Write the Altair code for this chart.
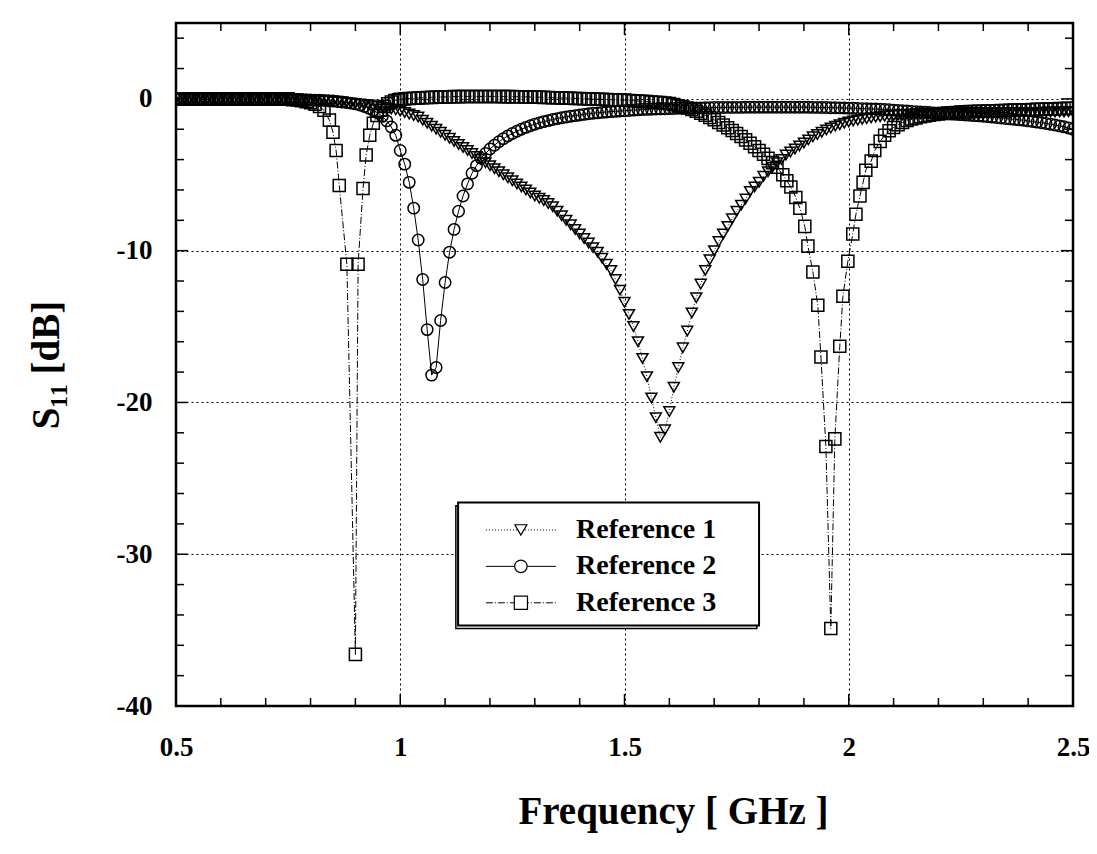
import altair as alt
import pandas as pd


def grid(start, n):
    return [round(start + 0.01 * i, 2) for i in range(n)]


# ---------------- data ----------------
FREQ_GRID = grid(0.50, 201)

REF1_DB = [
    0, 0, 0, 0, 0, 0, 0, 0, 0, 0,
    0, 0, 0, 0, 0, 0, 0, 0, 0, 0,
    0, 0, 0, -0.02, -0.03, -0.04, -0.05, -0.06, -0.07, -0.08,
    -0.09, -0.10, -0.12, -0.14, -0.16, -0.18, -0.20, -0.22, -0.25, -0.28,
    -0.31, -0.34, -0.37, -0.41, -0.45, -0.50, -0.55, -0.60, -0.66, -0.72,
    -0.80, -0.90, -1.00, -1.10, -1.20, -1.40, -1.60, -1.80, -2.00, -2.20,
    -2.40, -2.60, -2.80, -3.00, -3.20, -3.40, -3.60, -3.80, -4.00, -4.20,
    -4.40, -4.60, -4.80, -5.00, -5.20, -5.40, -5.60, -5.80, -6.00, -6.20,
    -6.40, -6.55, -6.70, -6.90, -7.10, -7.40, -7.70, -8.00, -8.30, -8.60,
    -8.90, -9.20, -9.50, -9.80, -10.10, -10.50, -10.90, -11.30, -11.90, -12.60,
    -13.40, -14.20, -15.00, -16.00, -17.10, -18.30, -19.70, -21.00, -22.30, -21.80,
    -20.60, -19.00, -17.70, -16.40, -15.30, -14.10, -13.10, -12.20, -11.30, -10.60,
    -10.00, -9.40, -8.90, -8.40, -7.90, -7.40, -7.00, -6.60, -6.10, -5.80,
    -5.50, -5.10, -4.80, -4.50, -4.20, -4.00, -3.70, -3.50, -3.30, -3.10,
    -2.90, -2.70, -2.50, -2.35, -2.20, -2.05, -1.92, -1.80, -1.70, -1.60,
    -1.52, -1.45, -1.40, -1.35, -1.30, -1.25, -1.21, -1.17, -1.14, -1.11,
    -1.08, -1.06, -1.04, -1.02, -1.00, -0.99, -0.98, -0.97, -0.96, -0.95,
    -0.94, -0.94, -0.93, -0.93, -0.92, -0.92, -0.92, -0.91, -0.91, -0.91,
    -0.90, -0.90, -0.90, -0.90, -0.90, -0.90, -0.90, -0.90, -0.90, -0.90,
    -0.90, -0.89, -0.89, -0.88, -0.88, -0.87, -0.87, -0.86, -0.86, -0.85,
    -0.85,
]

REF2_DB = [
    0, 0, 0, 0, 0, 0, 0, 0, 0, 0,
    0, 0, 0, 0, 0, 0, 0, 0, 0, 0,
    0, 0, 0, 0, -0.01, -0.02, -0.03, -0.04, -0.05, -0.06,
    -0.07, -0.08, -0.09, -0.10, -0.12, -0.14, -0.17, -0.20, -0.24, -0.28,
    -0.33, -0.40, -0.50, -0.62, -0.76, -0.93, -1.15, -1.45, -1.85, -2.40,
    -3.40, -4.30, -5.50, -7.20, -9.30, -11.90, -15.20, -18.20, -17.70, -14.60,
    -12.10, -10.10, -8.60, -7.40, -6.40, -5.60, -4.90, -4.40, -3.90, -3.60,
    -3.30, -3.05, -2.82, -2.62, -2.44, -2.28, -2.13, -2.00, -1.88, -1.77,
    -1.67, -1.58, -1.50, -1.43, -1.36, -1.30, -1.24, -1.19, -1.14, -1.10,
    -1.06, -1.02, -0.98, -0.95, -0.92, -0.89, -0.86, -0.84, -0.82, -0.80,
    -0.78, -0.76, -0.74, -0.72, -0.70, -0.69, -0.68, -0.67, -0.66, -0.65,
    -0.64, -0.63, -0.62, -0.61, -0.60, -0.60, -0.59, -0.59, -0.58, -0.58,
    -0.57, -0.57, -0.57, -0.56, -0.56, -0.56, -0.56, -0.55, -0.55, -0.55,
    -0.55, -0.55, -0.55, -0.55, -0.55, -0.55, -0.55, -0.55, -0.55, -0.55,
    -0.55, -0.55, -0.56, -0.56, -0.57, -0.57, -0.58, -0.58, -0.59, -0.60,
    -0.61, -0.62, -0.63, -0.64, -0.65, -0.66, -0.67, -0.68, -0.70, -0.72,
    -0.74, -0.76, -0.78, -0.80, -0.82, -0.84, -0.86, -0.88, -0.90, -0.92,
    -0.94, -0.96, -0.98, -1.00, -1.02, -1.04, -1.06, -1.08, -1.10, -1.12,
    -1.14, -1.17, -1.20, -1.23, -1.26, -1.29, -1.32, -1.35, -1.38, -1.41,
    -1.45, -1.49, -1.53, -1.57, -1.62, -1.67, -1.72, -1.78, -1.84, -1.92,
    -2.00,
]

REF3_DIP1_FREQ = [0.842, 0.850, 0.857, 0.864, 0.881, 0.900, 0.906, 0.917, 0.924,
                  0.932, 0.940, 0.948, 0.956, 0.964, 0.972, 0.980, 0.988, 0.996]
REF3_DIP2_FREQ = [1.853, 1.862, 1.871, 1.882, 1.891, 1.902, 1.909, 1.920, 1.931,
                  1.938, 1.949, 1.960, 1.969, 1.980, 1.987, 1.998, 2.009, 2.016,
                  2.025, 2.032, 2.038, 2.050, 2.058, 2.070]
REF3_FREQ = (grid(0.50, 34) + REF3_DIP1_FREQ + grid(1.00, 60) + grid(1.60, 25)
             + REF3_DIP2_FREQ + grid(2.08, 43))
REF3_DB = [
    # 0.50 - 0.83
    0, 0, 0, 0, 0, 0, 0, 0, 0, 0,
    0, 0, 0, 0, 0, 0, 0, 0, 0, 0,
    0, 0, 0, 0, 0, 0, -0.05, -0.08, -0.12, -0.18,
    -0.26, -0.36, -0.50, -0.75,
    # first resonance
    -1.4, -2.2, -3.4, -5.7, -10.9, -36.6, -10.9, -5.9, -3.7,
    -2.4, -1.6, -1.1, -0.75, -0.5, -0.32, -0.2, -0.1, -0.05,
    # 1.00 - 1.59
    -0.02, 0.00, 0.02, 0.04, 0.06, 0.08, 0.09, 0.10, 0.11, 0.12,
    0.13, 0.14, 0.15, 0.15, 0.16, 0.16, 0.16, 0.16, 0.16, 0.16,
    0.16, 0.16, 0.16, 0.15, 0.15, 0.15, 0.14, 0.14, 0.13, 0.13,
    0.12, 0.11, 0.10, 0.09, 0.08, 0.07, 0.06, 0.05, 0.04, 0.03,
    0.02, 0.01, 0.00, -0.01, -0.02, -0.03, -0.04, -0.05, -0.06, -0.07,
    -0.08, -0.10, -0.12, -0.14, -0.16, -0.18, -0.20, -0.22, -0.24, -0.27,
    # 1.60 - 1.84
    -0.30, -0.37, -0.45, -0.52, -0.60, -0.70, -0.82, -0.95, -1.08, -1.22,
    -1.38, -1.55, -1.72, -1.90, -2.08, -2.28, -2.48, -2.70, -2.92, -3.15,
    -3.40, -3.65, -3.92, -4.20, -4.50,
    # second resonance
    -5.0, -5.4, -5.8, -6.5, -7.2, -8.4, -9.7, -11.4, -13.6,
    -17.0, -22.9, -34.9, -22.4, -16.3, -13.0, -10.7, -8.9, -7.6,
    -6.4, -5.5, -4.7, -4.1, -3.4, -2.8,
    # 2.08 - 2.50
    -2.40, -2.10, -1.88, -1.70, -1.55, -1.43, -1.33, -1.25, -1.18, -1.12,
    -1.07, -1.03, -0.99, -0.96, -0.93, -0.91, -0.89, -0.87, -0.85, -0.84,
    -0.83, -0.82, -0.81, -0.80, -0.79, -0.78, -0.77, -0.76, -0.75, -0.74,
    -0.73, -0.72, -0.71, -0.70, -0.69, -0.68, -0.67, -0.66, -0.65, -0.64,
    -0.63, -0.62, -0.61,
]

SERIES = ["Reference 1", "Reference 2", "Reference 3"]

X_TICKS = [0.5, 1.0, 1.5, 2.0, 2.5]
Y_TICKS = [0, -10, -20, -30, -40]
X_MINOR = [0.6, 0.7, 0.8, 0.9, 1.1, 1.2, 1.3, 1.4, 1.6, 1.7, 1.8, 1.9,
           2.1, 2.2, 2.3, 2.4]
X_MAJOR = [1.0, 1.5, 2.0]
Y_MINOR = [4, 2, -2, -4, -6, -8, -12, -14, -16, -18, -22, -24, -26, -28,
           -32, -34, -36, -38]
Y_MAJOR = [0, -10, -20, -30]

# legend rows (placed in data space inside the plot)
LEGEND_Y = [-28.4, -30.8, -33.2]

# ---------------- build tables ----------------
rows = []
for name, fs, vs in [(SERIES[0], FREQ_GRID, REF1_DB),
                     (SERIES[1], FREQ_GRID, REF2_DB),
                     (SERIES[2], REF3_FREQ, REF3_DB)]:
    rows += [{"f": f, "s": v, "series": name} for f, v in zip(fs, vs)]
df = pd.DataFrame(rows)

XMIN, XMAX, YMIN, YMAX = 0.5, 2.5, -40, 5
W, H = 897, 683
px_x = (XMAX - XMIN) / W
px_y = (YMAX - YMIN) / H

FONT = "Liberation Serif"

xscale = alt.Scale(domain=[XMIN, XMAX], nice=False, zero=False)
yscale = alt.Scale(domain=[YMIN, YMAX], nice=False, zero=False)
xaxis = alt.Axis(values=X_TICKS, labelExpr="'' + datum.value", labelFlush=False,
                 labelPadding=28, titlePadding=32, titleX=497, titleAlign="center",
                 grid=True, ticks=False, domain=False, labelOverlap=False)
yaxis = alt.Axis(values=Y_TICKS,
                 labelExpr="datum.value < 0 ? '-' + abs(datum.value) : '' + datum.value",
                 labelFlush=False, labelPadding=24, titlePadding=50, grid=True,
                 ticks=False, domain=False, labelOverlap=False)
XT = "Frequency [ GHz ]"
YT = "S\u2081\u2081 [dB]"


def X(field):
    return alt.X(field, type="quantitative", scale=xscale, axis=xaxis, title=XT)


def Y(field):
    return alt.Y(field, type="quantitative", scale=yscale, axis=yaxis, title=YT)


STYLE = {
    SERIES[0]: dict(shape="triangle-down", dash=[1, 2], size=120),
    SERIES[1]: dict(shape="circle", dash=None, size=130),
    SERIES[2]: dict(shape="square", dash=[7, 2, 1, 2], size=145),
}

layers = []
for name in SERIES:
    st = STYLE[name]
    d = df[df.series == name]
    lk = dict(color="black", strokeWidth=1, clip=True)
    if st["dash"]:
        lk["strokeDash"] = st["dash"]
    layers.append(alt.Chart(d).mark_line(**lk).encode(x=X("f"), y=Y("s"), order="f:Q"))
    layers.append(alt.Chart(d).mark_point(shape=st["shape"], filled=False, size=st["size"],
                                          color="black", strokeWidth=1.5, opacity=1,
                                          clip=True).encode(x=X("f"), y=Y("s")))

# inward ticks on all four sides
vt = []
for v in X_MINOR + X_MAJOR:
    L = (12 if v in X_MAJOR else 8) * px_y
    vt.append({"f": v, "s": YMIN, "s2": YMIN + L})
    vt.append({"f": v, "s": YMAX, "s2": YMAX - L})
ht = []
for v in Y_MINOR + Y_MAJOR:
    L = (12 if v in Y_MAJOR else 8) * px_x
    ht.append({"s": v, "f": XMIN, "f2": XMIN + L})
    ht.append({"s": v, "f": XMAX, "f2": XMAX - L})
layers.append(alt.Chart(pd.DataFrame(vt)).mark_rule(color="black", strokeWidth=1.5).encode(
    x=X("f"), y=Y("s"), y2="s2:Q"))
layers.append(alt.Chart(pd.DataFrame(ht)).mark_rule(color="black", strokeWidth=1.5).encode(
    y=Y("s"), x=X("f"), x2="f2:Q"))

# legend box
box = pd.DataFrame([{"f": 1.129, "f2": 1.800, "s": -26.6, "s2": -34.7}])
shadow = pd.DataFrame([{"f": 1.124, "f2": 1.795, "s": -26.8, "s2": -34.9}])
layers.append(alt.Chart(shadow).mark_rect(fill="white", stroke="black", strokeWidth=1.5).encode(
    x=X("f"), x2="f2:Q", y=Y("s"), y2="s2:Q"))
layers.append(alt.Chart(box).mark_rect(fill="white", stroke="black", strokeWidth=2).encode(
    x=X("f"), x2="f2:Q", y=Y("s"), y2="s2:Q"))
for name, yy in zip(SERIES, LEGEND_Y):
    st = STYLE[name]
    ld = pd.DataFrame([{"f": 1.191, "f2": 1.347, "s": yy, "fs": 1.269, "ft": 1.392,
                        "label": name}])
    rk = dict(color="black", strokeWidth=1)
    if st["dash"]:
        rk["strokeDash"] = st["dash"]
    layers.append(alt.Chart(ld).mark_rule(**rk).encode(x=X("f"), x2="f2:Q", y=Y("s")))
    layers.append(alt.Chart(ld).mark_point(shape=st["shape"], filled=True, fill="white",
                                           stroke="black", size=st["size"] * 1.2,
                                           strokeWidth=1.2, opacity=1).encode(
        x=X("fs"), y=Y("s")))
    layers.append(alt.Chart(ld).mark_text(align="left", baseline="middle", font=FONT,
                                          fontWeight="bold", fontSize=28, color="black").encode(
        x=X("ft"), y=Y("s"), text="label:N"))

chart = alt.layer(*layers).properties(
    width=W, height=H, autosize="none",
    padding={"left": 168, "top": 15, "right": 16, "bottom": 130},
).configure_view(stroke="black", strokeWidth=2.5).configure_axis(
    labelFont=FONT, labelFontWeight="bold", labelFontSize=27, labelColor="black",
    titleFont=FONT, titleFontWeight="bold", titleFontSize=39, titleColor="black",
    gridColor="black", gridDash=[2, 3], gridWidth=1, gridOpacity=1,
)

chart.save("out.html", embed_options={"renderer": "svg", "actions": False})
